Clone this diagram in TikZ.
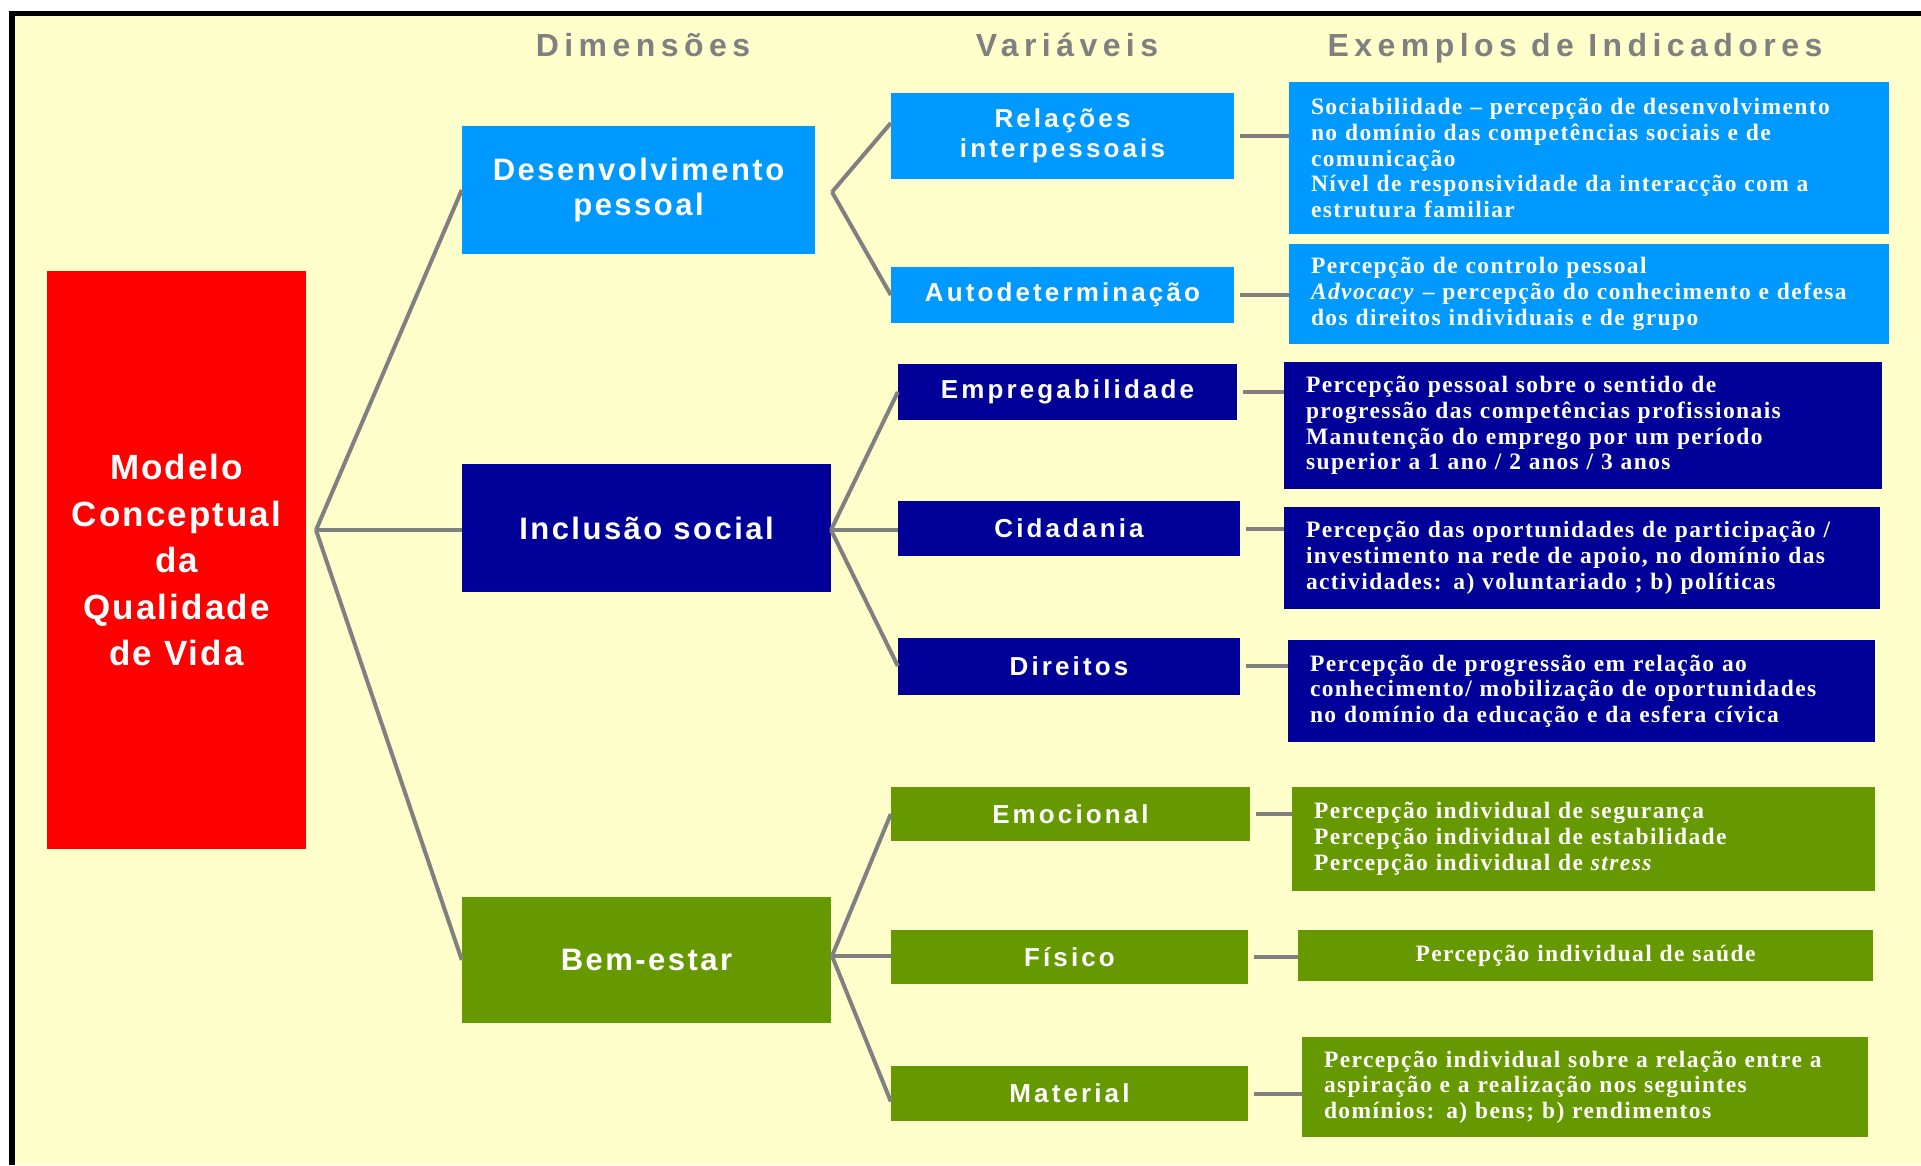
\documentclass[tikz,border=0pt]{standalone}
\usepackage{fontspec}
\setmainfont{Liberation Serif}
\newfontfamily\headfont[LetterSpace=17]{Liberation Sans}
\newfontfamily\modelfont[LetterSpace=6]{Liberation Sans}
\newfontfamily\dimfont[LetterSpace=8]{Liberation Sans}
\newfontfamily\varfont[LetterSpace=12]{Liberation Sans}
\newfontfamily\indfont[LetterSpace=6]{Liberation Serif}
\definecolor{bgyellow}{HTML}{FFFFCC}
\definecolor{modelred}{HTML}{FF0000}
\definecolor{lightblue}{HTML}{0099FF}
\definecolor{darkblue}{HTML}{000099}
\definecolor{leafgreen}{HTML}{669900}
\definecolor{linegray}{HTML}{808080}
\begin{document}
\begin{tikzpicture}[x=1pt,y=-1pt,
  link/.style={draw=linegray,line width=4pt},
  head/.style={anchor=base,text=linegray,font=\headfont\bfseries\fontsize{32}{38}\selectfont},
  dimbox/.style={fill=#1,text=white,align=center,inner sep=0pt,
    font=\dimfont\bfseries\fontsize{31}{35.5}\selectfont},
  varbox/.style={fill=#1,text=white,align=center,inner sep=0pt,
    font=\varfont\bfseries\fontsize{26}{30}\selectfont},
  indbox/.style={fill=#1,text=white,align=left,inner xsep=22pt,inner ysep=0pt,
    font=\indfont\bfseries\fontsize{23.5}{25.7}\selectfont}]
\useasboundingbox (0,0) rectangle (1921,1165);
\fill[white] (0,0) rectangle (1921,1165);
\fill[black] (9,11) rectangle (1921,1165);
\fill[bgyellow] (15,16) rectangle (1921,1165);

% titulos
\node[head] (hdim) at (643,56) {Dimensões};
\node[head] (hvar) at (1067,56) {Variáveis};
\node[head] (hind) at (1575,56) {Exemplos de Indicadores};

% modelo
\node[fill=modelred,text=white,align=center,inner sep=0pt,
  minimum width=259pt,minimum height=578pt,
  font=\modelfont\bfseries\fontsize{35}{46.5}\selectfont]
  (model) at (176.5,560) {Modelo\\Conceptual\\da\\Qualidade\\de Vida};

% dimensoes
\node[dimbox=lightblue,minimum width=353pt,minimum height=128pt] (dev) at (638.5,190) {Desenvolvimento\\pessoal};
\node[dimbox=darkblue,minimum width=369pt,minimum height=128pt] (incl) at (646.5,528) {Inclusão social};
\node[dimbox=leafgreen,minimum width=369pt,minimum height=126pt] (bem) at (646.5,960) {Bem-estar};

% variaveis
\node[varbox=lightblue,minimum width=343pt,minimum height=86pt] (rel) at (1062.5,136) {Relações\\interpessoais};
\node[varbox=lightblue,minimum width=343pt,minimum height=56pt] (auto) at (1062.5,295) {Autodeterminação};
\node[varbox=darkblue,minimum width=339pt,minimum height=56pt] (emp) at (1067.5,392) {Empregabilidade};
\node[varbox=darkblue,minimum width=342pt,minimum height=55pt] (cid) at (1069,528.5) {Cidadania};
\node[varbox=darkblue,minimum width=342pt,minimum height=57pt] (dir) at (1069,666) {Direitos};
\node[varbox=leafgreen,minimum width=359pt,minimum height=54pt] (emo) at (1070.5,814) {Emocional};
\node[varbox=leafgreen,minimum width=357pt,minimum height=54pt] (fis) at (1069.5,957) {Físico};
\node[varbox=leafgreen,minimum width=357pt,minimum height=55pt] (mat) at (1069.5,1093.5) {Material};

% indicadores
\node[indbox=lightblue,text width=556pt,minimum height=152pt] (i1) at (1589,158)
  {Sociabilidade – percepção de desenvolvimento\\no domínio das competências sociais e de\\comunicação\\Nível de responsividade da interacção com a\\estrutura familiar};
\node[indbox=lightblue,text width=556pt,minimum height=100pt] (i2) at (1589,294)
  {Percepção de controlo pessoal\\\textit{Advocacy} – percepção do conhecimento e defesa\\dos direitos individuais e de grupo};
\node[indbox=darkblue,text width=554pt,minimum height=127pt] (i3) at (1583,425.5)
  {Percepção pessoal sobre o sentido de\\progressão das competências profissionais\\Manutenção do emprego por um período\\superior a 1 ano / 2 anos / 3 anos};
\node[indbox=darkblue,text width=552pt,minimum height=102pt] (i4) at (1582,558)
  {Percepção das oportunidades de participação /\\investimento na rede de apoio, no domínio das\\actividades: a) voluntariado ; b) políticas};
\node[indbox=darkblue,text width=543pt,minimum height=102pt] (i5) at (1581.5,691)
  {Percepção de progressão em relação ao\\conhecimento/ mobilização de oportunidades\\no domínio da educação e da esfera cívica};
\node[indbox=leafgreen,text width=539pt,minimum height=104pt] (i6) at (1583.5,839)
  {Percepção individual de segurança\\Percepção individual de estabilidade\\Percepção individual de \textit{stress}};
\node[indbox=leafgreen,align=center,text width=531pt,minimum height=51pt] (i7) at (1585.5,955.5)
  {Percepção individual de saúde};
\node[indbox=leafgreen,text width=522pt,minimum height=100pt] (i8) at (1585,1087)
  {Percepção individual sobre a relação entre a\\aspiração e a realização nos seguintes\\domínios: a) bens; b) rendimentos};

% ligacoes
\coordinate (j0) at (316,530);
\draw[link] (j0) -- (dev.west);
\draw[link] (j0) -- (j0 -| incl.west);
\draw[link] (j0) -- (bem.west);
\coordinate (j1) at (832,192);
\draw[link] (j1) -- ([yshift=13pt]rel.west);
\draw[link] (j1) -- (auto.west);
\coordinate (j2) at (831,530);
\draw[link] (j2) -- (emp.west);
\draw[link] (j2) -- (j2 -| cid.west);
\draw[link] (j2) -- (dir.west);
\coordinate (j3) at (832,956);
\draw[link] (j3) -- (emo.west);
\draw[link] (j3) -- (j3 -| fis.west);
\draw[link] (j3) -- ([yshift=-8pt]mat.west);
\foreach \v/\i in {rel/i1,auto/i2,emp/i3,cid/i4,dir/i5,emo/i6,fis/i7,mat/i8}
  \draw[link,shorten <=6pt] (\v.east) -- (\v.east -| \i.west);
\end{tikzpicture}
\end{document}
